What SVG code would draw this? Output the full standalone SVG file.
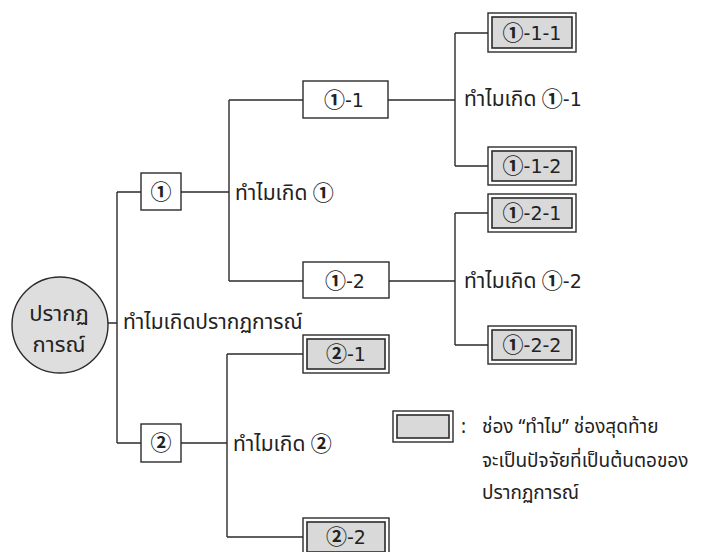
<svg xmlns="http://www.w3.org/2000/svg" width="717" height="552" viewBox="0 0 717 552">
<style>
.ln{stroke:#2b2b2b;stroke-width:1.4;fill:none}
.bx{fill:#fff;stroke:#2b2b2b;stroke-width:1.4}
.ob{fill:#fff;stroke:#2b2b2b;stroke-width:1.4}
.ib{fill:#d9d9d9;stroke:#2b2b2b;stroke-width:1.6}
.t{font-family:"Noto Sans","Noto Sans Thai","DejaVu Sans",sans-serif;font-size:21px;fill:#222}
.lg{font-size:19px}
.rt{font-size:22px}
.d{font-family:"Noto Sans CJK JP","DejaVu Sans",sans-serif;font-size:21px;font-weight:bold}
.n{font-family:"DejaVu Sans",sans-serif;font-size:19px;fill:#222}
.c{text-anchor:middle}
</style>
<rect width="717" height="552" fill="#fff"/>
<g id="connectors">
<path class="ln" d="M108 323H117M117 192V443M117 192H141M117 443H141"/>
<path class="ln" d="M181 192H229M229 100V281M229 100H303M229 281H303"/>
<path class="ln" d="M181 443H227M227 354V537M227 354H303M227 537H303"/>
<path class="ln" d="M388 100H455M455 33V166M455 33H488M455 166H488"/>
<path class="ln" d="M389 281H455M455 213V345M455 213H488M455 345H488"/>
</g>
<g id="root">
<circle cx="60" cy="325" r="48" fill="#dedede" stroke="#2b2b2b" stroke-width="1.4"/>
<text class="t rt c" x="59" y="321">ปรากฏ</text>
<text class="t rt c" x="59" y="352">การณ์</text>
</g>
<text class="t" x="123" y="329">ทำไมเกิดปรากฏการณ์</text>
<g id="n1"><rect class="bx" x="141" y="173" width="40" height="37"/><text class="n c" x="161" y="199"><tspan class="d">①</tspan></text></g>
<g id="n2"><rect class="bx" x="141" y="424" width="40" height="38"/><text class="n c" x="161" y="450"><tspan class="d">②</tspan></text></g>
<text class="t" x="235" y="200">ทำไมเกิด <tspan class="d">①</tspan></text>
<text class="t" x="233" y="451">ทำไมเกิด <tspan class="d">②</tspan></text>
<g id="n1-1"><rect class="bx" x="303" y="81" width="85" height="37"/><text class="n c" x="344" y="107"><tspan class="d">①</tspan>-1</text></g>
<g id="n1-2"><rect class="bx" x="303" y="262" width="86" height="36"/><text class="n c" x="345" y="288"><tspan class="d">①</tspan>-2</text></g>
<text class="t" x="464" y="106">ทำไมเกิด <tspan class="d">①</tspan><tspan class="n">-1</tspan></text>
<text class="t" x="464" y="288">ทำไมเกิด <tspan class="d">①</tspan><tspan class="n">-2</tspan></text>
<g id="n1-1-1"><rect class="ob" x="488" y="13" width="88" height="39"/><rect class="ib" x="492" y="17" width="80" height="31"/><text class="n c" x="532" y="40"><tspan class="d">①</tspan>-1-1</text></g>
<g id="n1-1-2"><rect class="ob" x="488" y="147" width="88" height="38"/><rect class="ib" x="492" y="151" width="80" height="30"/><text class="n c" x="532" y="173"><tspan class="d">①</tspan>-1-2</text></g>
<g id="n1-2-1"><rect class="ob" x="488" y="194" width="88" height="38"/><rect class="ib" x="492" y="198" width="80" height="30"/><text class="n c" x="532" y="220"><tspan class="d">①</tspan>-2-1</text></g>
<g id="n1-2-2"><rect class="ob" x="488" y="326" width="88" height="38"/><rect class="ib" x="492" y="330" width="80" height="30"/><text class="n c" x="532" y="352"><tspan class="d">①</tspan>-2-2</text></g>
<g id="n2-1"><rect class="ob" x="303" y="335" width="86" height="38"/><rect class="ib" x="307" y="339" width="78" height="30"/><text class="n c" x="346" y="361"><tspan class="d">②</tspan>-1</text></g>
<g id="n2-2"><rect class="ob" x="303" y="518" width="86" height="38"/><rect class="ib" x="307" y="522" width="78" height="30"/><text class="n c" x="346" y="544"><tspan class="d">②</tspan>-2</text></g>
<g id="legend">
<rect class="ob" x="393" y="411" width="60" height="31"/><rect class="ib" x="397" y="415" width="52" height="23"/>
<text class="t lg" x="461" y="433">:</text>
<text class="t lg" x="482" y="433">ช่อง “ทำไม” ช่องสุดท้าย</text>
<text class="t lg" x="482" y="467">จะเป็นปัจจัยที่เป็นต้นตอของ</text>
<text class="t lg" x="482" y="499">ปรากฏการณ์</text>
</g>
</svg>
